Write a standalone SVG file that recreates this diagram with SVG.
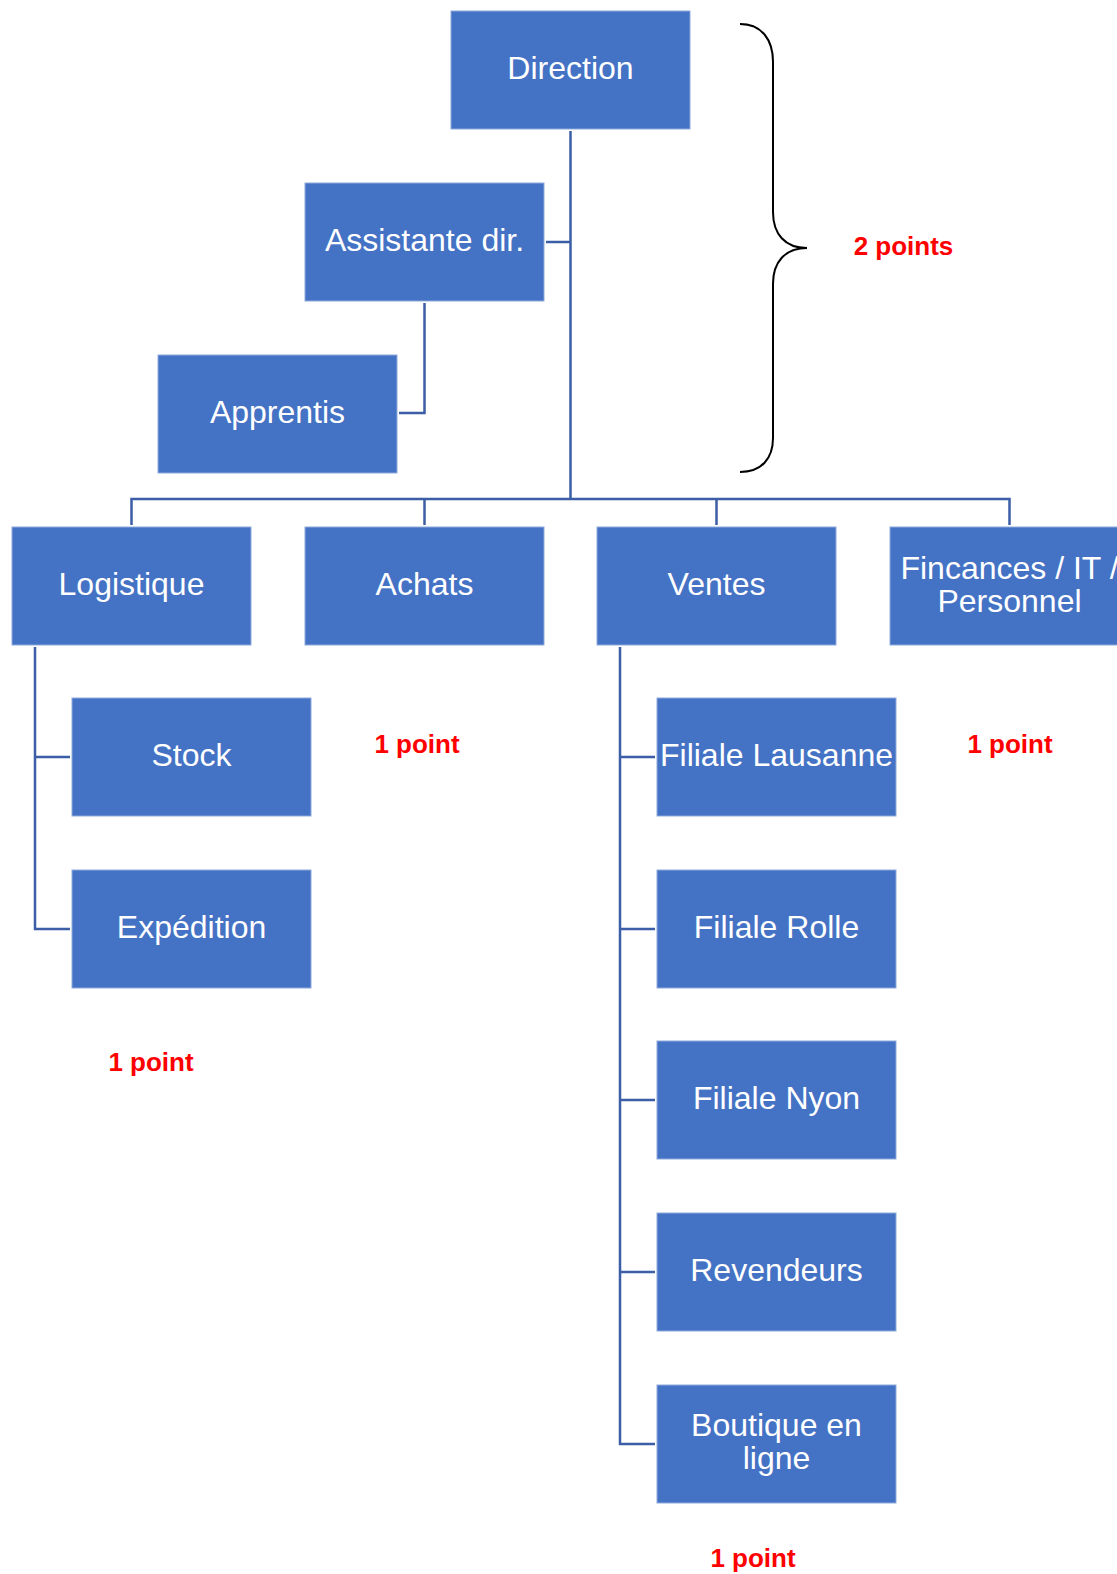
<svg xmlns="http://www.w3.org/2000/svg" width="1117" height="1574" viewBox="0 0 1117 1574">
<style>
.box{fill:#4472C4;stroke:#8FAADC;stroke-width:1}
.lbl{fill:#ffffff;font-family:"Liberation Sans",Arial,sans-serif;font-size:32px;text-anchor:middle}
.pts{fill:#ff0000;font-family:"Liberation Sans",Arial,sans-serif;font-size:26px;font-weight:bold;text-anchor:middle}
.con{fill:none;stroke:#3B5EA6;stroke-width:2.5}
</style>
<rect width="1117" height="1574" fill="#ffffff"/>
<g id="connectors">
<path class="con" d="M570.5,131 V499"/>
<path class="con" d="M546,242 H570.5"/>
<path class="con" d="M424.5,303 V413 H399"/>
<path class="con" d="M131.5,525 V499 H1009.5 V525"/>
<path class="con" d="M424.5,499 V525"/>
<path class="con" d="M716.5,499 V525"/>
<path class="con" d="M35,647 V929 H70"/>
<path class="con" d="M35,757 H70"/>
<path class="con" d="M620,647 V1444 H655"/>
<path class="con" d="M620,757 H655"/>
<path class="con" d="M620,929 H655"/>
<path class="con" d="M620,1100 H655"/>
<path class="con" d="M620,1272 H655"/>
</g>
<g id="direction"><rect class="box" x="451" y="11" width="239" height="118"/><text class="lbl" x="570.5" y="79">Direction</text></g>
<g id="assistante"><rect class="box" x="305" y="183" width="239" height="118"/><text class="lbl" x="424.5" y="251">Assistante dir.</text></g>
<g id="apprentis"><rect class="box" x="158" y="355" width="239" height="118"/><text class="lbl" x="277.5" y="423">Apprentis</text></g>
<g id="logistique"><rect class="box" x="12" y="527" width="239" height="118"/><text class="lbl" x="131.5" y="595">Logistique</text></g>
<g id="achats"><rect class="box" x="305" y="527" width="239" height="118"/><text class="lbl" x="424.5" y="595">Achats</text></g>
<g id="ventes"><rect class="box" x="597" y="527" width="239" height="118"/><text class="lbl" x="716.5" y="595">Ventes</text></g>
<g id="finances"><rect class="box" x="890" y="527" width="239" height="118"/><text class="lbl" x="1009.5" y="578.5">Fincances / IT /</text><text class="lbl" x="1009.5" y="611.5">Personnel</text></g>
<g id="stock"><rect class="box" x="72" y="698" width="239" height="118"/><text class="lbl" x="191.5" y="766">Stock</text></g>
<g id="expedition"><rect class="box" x="72" y="870" width="239" height="118"/><text class="lbl" x="191.5" y="938">Expédition</text></g>
<g id="lausanne"><rect class="box" x="657" y="698" width="239" height="118"/><text class="lbl" x="776.5" y="766">Filiale Lausanne</text></g>
<g id="rolle"><rect class="box" x="657" y="870" width="239" height="118"/><text class="lbl" x="776.5" y="938">Filiale Rolle</text></g>
<g id="nyon"><rect class="box" x="657" y="1041" width="239" height="118"/><text class="lbl" x="776.5" y="1109">Filiale Nyon</text></g>
<g id="revendeurs"><rect class="box" x="657" y="1213" width="239" height="118"/><text class="lbl" x="776.5" y="1281">Revendeurs</text></g>
<g id="boutique"><rect class="box" x="657" y="1385" width="239" height="118"/><text class="lbl" x="776.5" y="1436">Boutique en</text><text class="lbl" x="776.5" y="1469">ligne</text></g>
<g id="brace">
<path d="M740,24 C762,24 773,40 773,62 L773,212 C773,234 785,248 807,248 C785,248 773,262 773,284 L773,438 C773,458 762,472 740,472" fill="none" stroke="#000000" stroke-width="2"/>
</g>
<g id="points">
<text class="pts" x="903.5" y="255">2 points</text>
<text class="pts" x="417" y="753">1 point</text>
<text class="pts" x="1010" y="753">1 point</text>
<text class="pts" x="151" y="1071">1 point</text>
<text class="pts" x="753" y="1567">1 point</text>
</g>
</svg>
